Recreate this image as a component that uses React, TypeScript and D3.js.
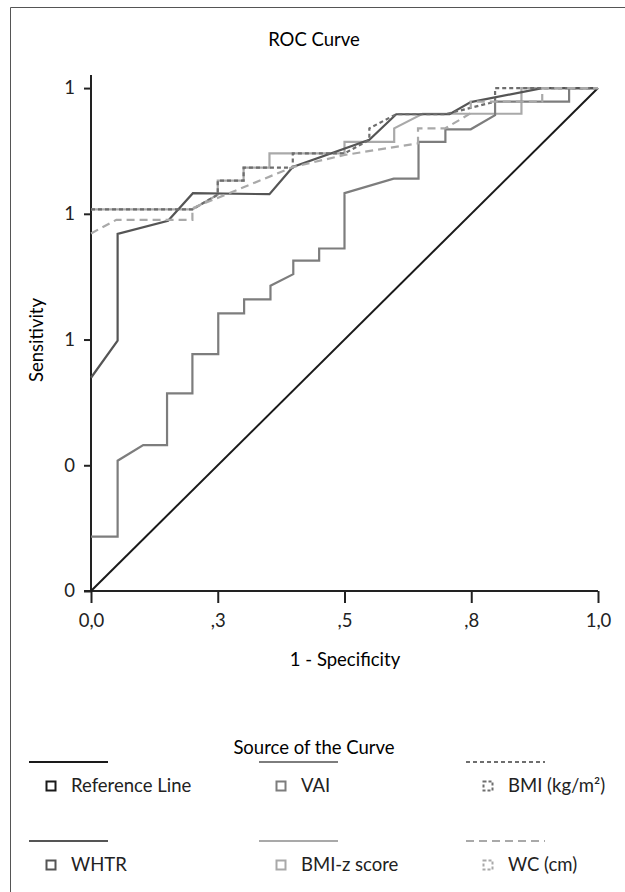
import React, { useEffect, useRef } from 'react';
import * as d3 from 'd3';

// axis ticks as printed by the original chart
const xTicks = [0, 0.25, 0.5, 0.75, 1];
const xTickLabels = ['0,0', ',3', ',5', ',8', '1,0'];
const yTicks = [0, 0.25, 0.5, 0.75, 1];
const yTickLabels = ['0', '0', '1', '1', '1'];

// curves: [1 - specificity, sensitivity]
const referenceLine = [[0, 0], [1, 1]];
const whtr = [
  [0, 0.424], [0.0525, 0.498], [0.0525, 0.71], [0.152, 0.736], [0.201, 0.791],
  [0.352, 0.789], [0.398, 0.843], [0.549, 0.897], [0.602, 0.948], [0.707, 0.948],
  [0.749, 0.972], [0.89, 1], [1, 1],
];
const vai = [
  [0, 0.108], [0.0525, 0.108], [0.0525, 0.259], [0.103, 0.29], [0.15, 0.29],
  [0.15, 0.393], [0.2, 0.393], [0.2, 0.471], [0.251, 0.471], [0.251, 0.552],
  [0.302, 0.552], [0.302, 0.58], [0.354, 0.58], [0.354, 0.607], [0.399, 0.63],
  [0.399, 0.657], [0.45, 0.657], [0.45, 0.681], [0.5, 0.681], [0.5, 0.791],
  [0.597, 0.82], [0.646, 0.82], [0.646, 0.893], [0.699, 0.893], [0.699, 0.918],
  [0.749, 0.918], [0.797, 0.946], [0.797, 0.973], [0.943, 0.973], [0.943, 1], [1, 1],
];
const bmiZ = [
  [0, 0.759], [0.2, 0.759], [0.25, 0.788], [0.25, 0.816], [0.301, 0.816],
  [0.301, 0.842], [0.352, 0.842], [0.352, 0.87], [0.5, 0.87], [0.5, 0.893],
  [0.598, 0.893], [0.598, 0.92], [0.654, 0.949], [0.849, 0.949], [0.849, 1], [1, 1],
];
const bmi = [
  [0, 0.759], [0.2, 0.759], [0.25, 0.788], [0.25, 0.816], [0.301, 0.816],
  [0.301, 0.842], [0.398, 0.842], [0.398, 0.87], [0.5, 0.87], [0.549, 0.897],
  [0.549, 0.92], [0.602, 0.948], [0.699, 0.948], [0.797, 0.973], [0.797, 1], [1, 1],
];
const wc = [
  [0, 0.711], [0.05, 0.738], [0.2, 0.738], [0.2, 0.761], [0.398, 0.843],
  [0.5, 0.867], [0.645, 0.89], [0.645, 0.92], [0.699, 0.92], [0.749, 0.95],
  [0.749, 0.973], [0.89, 0.973], [0.89, 1], [1, 1],
];

const seriesNames = ['Reference Line', 'WHTR', 'VAI', 'BMI-z score', 'BMI (kg/m²)', 'WC (cm)'];
const seriesData = [referenceLine, whtr, vai, bmiZ, bmi, wc];

const styles = {
  'Reference Line': { color: '#1a1a1a', dash: null },
  WHTR: { color: '#555555', dash: null },
  VAI: { color: '#7d7d7d', dash: null },
  'BMI-z score': { color: '#a9a9a9', dash: null },
  'BMI (kg/m²)': { color: '#6e6e6e', dash: '4,3' },
  'WC (cm)': { color: '#a9a9a9', dash: '8,5' },
};

// draw order: lighter curves under darker ones
const drawOrder = ['Reference Line', 'BMI-z score', 'VAI', 'WHTR', 'BMI (kg/m²)', 'WC (cm)'];

const FONT = 'Lato, "Open Sans", sans-serif';
const FS = '18.5px';

const RocChart = () => {
  const svgRef = useRef(null);

  useEffect(() => {
    const svg = d3.select(svgRef.current);
    svg.selectAll('*').remove();

    // frame
    svg.append('path')
      .attr('d', 'M10.5,900 V7.5 H640')
      .attr('fill', 'none')
      .attr('stroke', '#555')
      .attr('stroke-width', 1);

    const x = d3.scaleLinear().domain([0, 1]).range([91, 598]);
    const y = d3.scaleLinear().domain([0, 1.026]).range([591, 75]);

    svg.append('text')
      .attr('x', 314)
      .attr('y', 46)
      .attr('text-anchor', 'middle')
      .style('font-family', FONT)
      .style('font-size', FS)
      .text('ROC Curve');

    // x axis
    const xAxis = d3.axisBottom(x)
      .tickValues(xTicks)
      .tickFormat((d, i) => xTickLabels[i])
      .tickSizeInner(12)
      .tickSizeOuter(0)
      .tickPadding(11);
    const gx = svg.append('g').attr('transform', `translate(0,${y(0)})`).call(xAxis);
    gx.select('.domain').remove();
    gx.append('line')
      .attr('x1', x(0) - 7)
      .attr('x2', x(1))
      .attr('stroke', '#222')
      .attr('stroke-width', 2);
    gx.selectAll('.tick line').attr('stroke', '#222').attr('stroke-width', 2);
    gx.selectAll('.tick text')
      .attr('fill', '#222')
      .style('font-family', FONT)
      .style('font-size', FS);

    // y axis
    const yAxis = d3.axisLeft(y)
      .tickValues(yTicks)
      .tickFormat((d, i) => yTickLabels[i])
      .tickSizeInner(7)
      .tickSizeOuter(0)
      .tickPadding(9);
    const gy = svg.append('g').attr('transform', `translate(${x(0)},0)`).call(yAxis);
    gy.select('.domain').remove();
    gy.append('line')
      .attr('y1', y(0))
      .attr('y2', y(1.026))
      .attr('stroke', '#222')
      .attr('stroke-width', 2);
    gy.selectAll('.tick line').attr('stroke', '#222').attr('stroke-width', 2);
    gy.selectAll('.tick text')
      .attr('fill', '#222')
      .style('font-family', FONT)
      .style('font-size', FS);

    svg.append('text')
      .attr('x', 345)
      .attr('y', 666)
      .attr('text-anchor', 'middle')
      .style('font-family', FONT)
      .style('font-size', FS)
      .text('1 - Specificity');

    svg.append('text')
      .attr('transform', 'translate(43,340) rotate(-90)')
      .attr('text-anchor', 'middle')
      .style('font-family', FONT)
      .style('font-size', FS)
      .text('Sensitivity');

    // curves
    const line = d3.line()
      .x(d => x(d[0]))
      .y(d => y(d[1]));

    drawOrder.forEach(name => {
      const data = seriesData[seriesNames.indexOf(name)];
      const st = styles[name];
      svg.append('path')
        .datum(data)
        .attr('fill', 'none')
        .attr('stroke', st.color)
        .attr('stroke-width', name === 'Reference Line' ? 2 : 2.2)
        .attr('stroke-dasharray', st.dash)
        .attr('d', line);
    });

    // legend
    svg.append('text')
      .attr('x', 314)
      .attr('y', 754)
      .attr('text-anchor', 'middle')
      .style('font-family', FONT)
      .style('font-size', FS)
      .text('Source of the Curve');

    const colX = [29, 259, 466];
    const rowY = [762, 841];
    seriesNames.forEach((name, i) => {
      const col = Math.floor(i / 2);
      const row = i % 2;
      const st = styles[name];
      const g = svg.append('g')
        .attr('transform', `translate(${colX[col]},${rowY[row]})`);
      g.append('line')
        .attr('x1', 0)
        .attr('x2', 79)
        .attr('stroke', st.color)
        .attr('stroke-width', 2)
        .attr('stroke-dasharray', st.dash);
      g.append('rect')
        .attr('x', 17.5)
        .attr('y', 19.5)
        .attr('width', 9)
        .attr('height', 9)
        .attr('fill', 'none')
        .attr('stroke', st.color)
        .attr('stroke-width', 2)
        .attr('stroke-dasharray', st.dash ? '3,2' : null);
      g.append('text')
        .attr('x', 42)
        .attr('y', 30)
        .attr('fill', '#222')
        .style('font-family', FONT)
        .style('font-size', FS)
        .text(name);
    });
  }, []);

  return (
    <svg
      ref={svgRef}
      width="625"
      height="892"
      style={{ position: 'absolute', left: 0, top: 0, background: '#fff' }}
    />
  );
};

export default function App() {
  return <RocChart />;
}
